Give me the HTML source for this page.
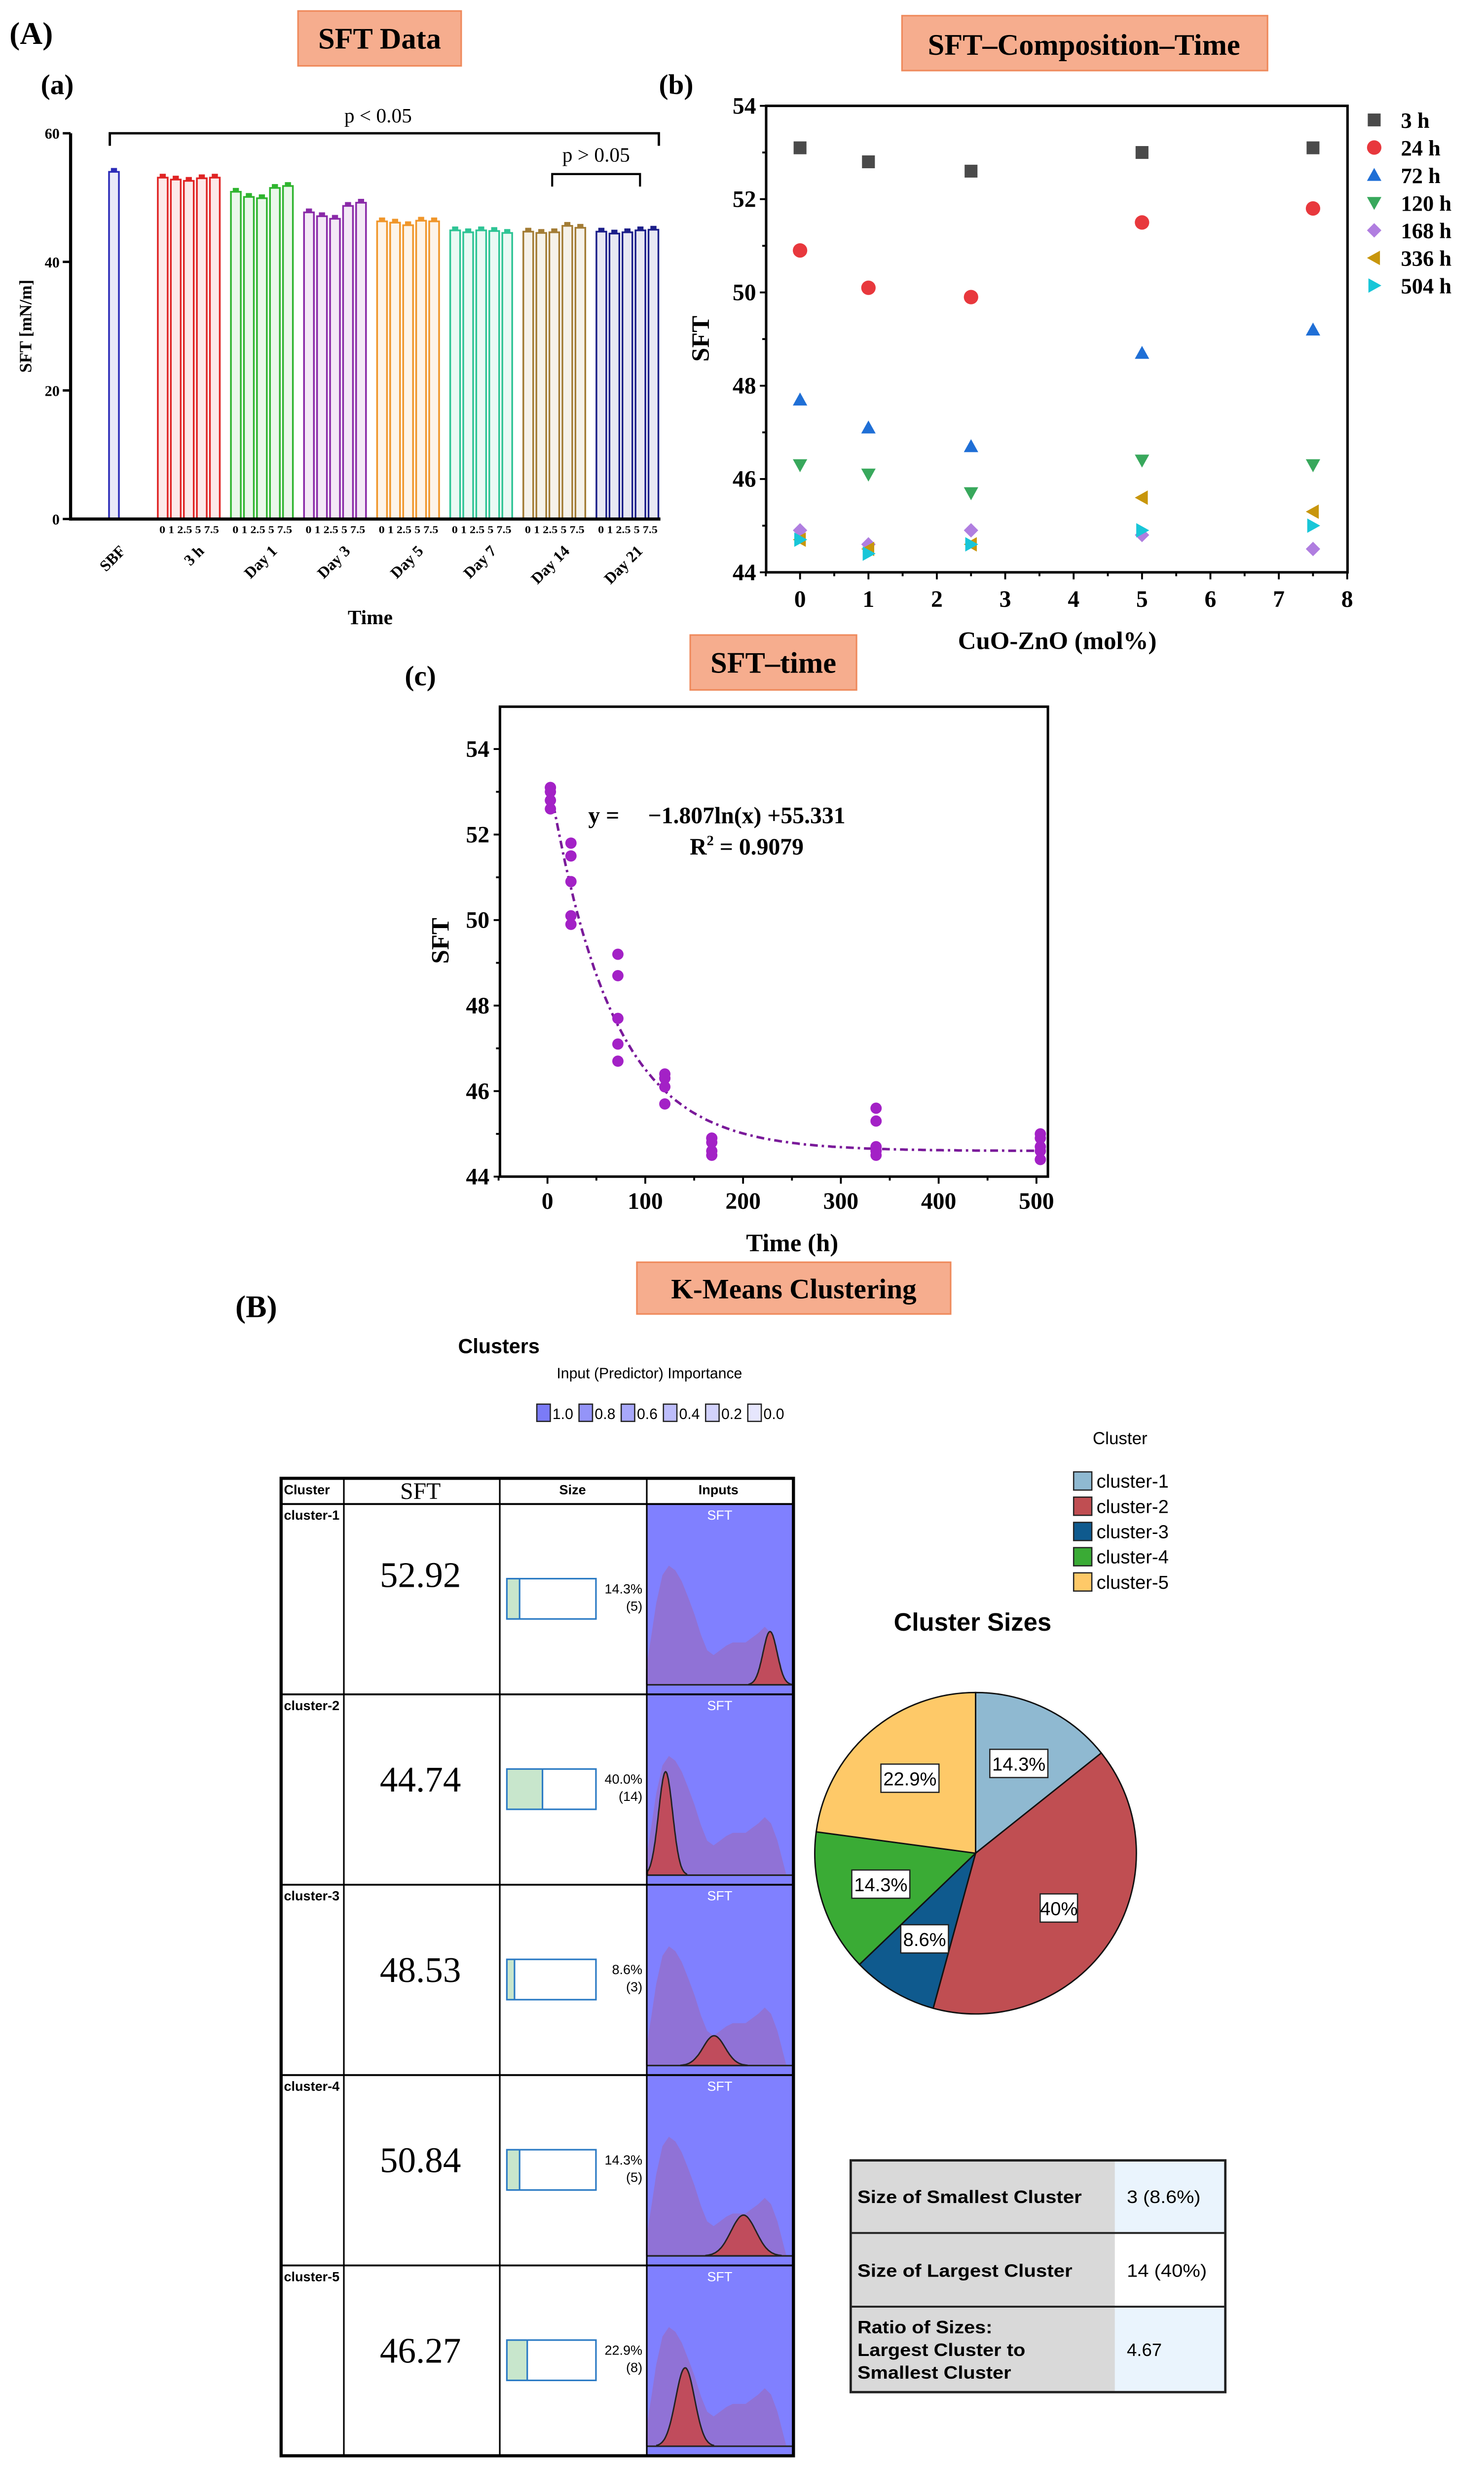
<!DOCTYPE html>
<html><head><meta charset="utf-8"><style>
html,body{margin:0;padding:0;background:#fff;overflow:hidden;}
svg{display:block;}
text{font-family:"Liberation Serif",serif;}
.sans{font-family:"Liberation Sans",sans-serif;}
</style></head><body>
<svg id="fig" xmlns="http://www.w3.org/2000/svg" width="3008" height="5072" viewBox="0 0 946 1596" preserveAspectRatio="none">
<rect x="0" y="0" width="946" height="1596" fill="#fff"/>
<!-- headers -->
<text x="6" y="28" font-size="20" font-weight="bold">(A)</text>
<rect x="190" y="7" width="104" height="35" fill="#f6ad8e" stroke="#ef8a5c"/>
<text x="242" y="31" font-size="19" font-weight="bold" text-anchor="middle">SFT Data</text>
<text x="26" y="60" font-size="18" font-weight="bold">(a)</text>
<rect x="575" y="10" width="233" height="35" fill="#f6ad8e" stroke="#ef8a5c"/>
<text x="691" y="35" font-size="19" font-weight="bold" text-anchor="middle">SFT–Composition–Time</text>
<text x="420" y="60" font-size="18" font-weight="bold">(b)</text>
<rect x="440" y="405" width="106" height="35" fill="#f6ad8e" stroke="#ef8a5c"/>
<text x="493" y="429" font-size="19" font-weight="bold" text-anchor="middle">SFT–time</text>
<text x="258" y="437" font-size="18" font-weight="bold">(c)</text>
<text x="150" y="840" font-size="20" font-weight="bold">(B)</text>
<rect x="406" y="805" width="200" height="33" fill="#f6ad8e" stroke="#ef8a5c"/>
<text x="506" y="828" font-size="18" font-weight="bold" text-anchor="middle">K-Means Clustering</text>

<!-- panel a static -->
<g id="pa"></g>
<text x="241" y="78" font-size="13" text-anchor="middle">p &lt; 0.05</text>
<path d="M70,93 V85 H420 V93" fill="none" stroke="#000" stroke-width="1.5"/>
<text x="380" y="103" font-size="13" text-anchor="middle">p &gt; 0.05</text>
<path d="M352,119 V111 H408 V119" fill="none" stroke="#000" stroke-width="1.3"/>
<text x="236" y="398" font-size="13" font-weight="bold" text-anchor="middle">Time</text>
<text transform="translate(20,208) rotate(-90)" font-size="11" font-weight="bold" text-anchor="middle">SFT [mN/m]</text>

<!-- panel b static -->
<g id="pb"></g>
<text x="674" y="414" font-size="16" font-weight="bold" text-anchor="middle">CuO-ZnO (mol%)</text>
<text transform="translate(452,216) rotate(-90)" font-size="16" font-weight="bold" text-anchor="middle">SFT</text>

<!-- panel c static -->
<g id="pc"></g>
<text x="375" y="525" font-size="15" font-weight="bold">y =</text>
<text x="476" y="525" font-size="15" font-weight="bold" text-anchor="middle">−1.807ln(x) +55.331</text>
<text x="476" y="545" font-size="15" font-weight="bold" text-anchor="middle">R<tspan font-size="9" dy="-6">2</tspan><tspan dy="6"> = 0.9079</tspan></text>
<text x="505" y="798" font-size="16" font-weight="bold" text-anchor="middle">Time (h)</text>
<text transform="translate(286,600) rotate(-90)" font-size="16" font-weight="bold" text-anchor="middle">SFT</text>

<!-- clusters header -->
<text class="sans" x="318" y="863" font-size="13" font-weight="bold" text-anchor="middle">Clusters</text>
<text class="sans" x="414" y="879" font-size="9.5" text-anchor="middle">Input (Predictor) Importance</text>
<g id="impLegend"></g>
<g id="ctable"></g>
<g id="pie"></g>
<text class="sans" x="620" y="1040" font-size="16" font-weight="bold" text-anchor="middle">Cluster Sizes</text>
<text class="sans" x="714" y="921" font-size="11" text-anchor="middle">Cluster</text>

<!-- summary table -->
<g>
<rect x="542.3" y="1377.8" width="168.4" height="147.8" fill="#d9d9d9"/>
<rect x="710.7" y="1377.8" width="70.4" height="46.3" fill="#eaf4fd"/>
<rect x="710.7" y="1424.1" width="70.4" height="47" fill="#ffffff"/>
<rect x="710.7" y="1471.1" width="70.4" height="54.5" fill="#eaf4fd"/>
<rect x="542.3" y="1377.8" width="238.8" height="147.8" fill="none" stroke="#222" stroke-width="1.5"/>
<line x1="542.3" y1="1424.1" x2="781.1" y2="1424.1" stroke="#222" stroke-width="1.2"/>
<line x1="542.3" y1="1471.1" x2="781.1" y2="1471.1" stroke="#222" stroke-width="1.2"/>
<text class="sans" x="546.6" y="1405" font-size="11.5" font-weight="bold" textLength="143" lengthAdjust="spacingAndGlyphs">Size of Smallest Cluster</text>
<text class="sans" x="718.3" y="1405" font-size="11.5" textLength="47" lengthAdjust="spacingAndGlyphs">3 (8.6%)</text>
<text class="sans" x="546.6" y="1452" font-size="11.5" font-weight="bold" textLength="137" lengthAdjust="spacingAndGlyphs">Size of Largest Cluster</text>
<text class="sans" x="718.3" y="1452" font-size="11.5" textLength="51" lengthAdjust="spacingAndGlyphs">14 (40%)</text>
<text class="sans" x="546.6" y="1488" font-size="11.5" font-weight="bold" textLength="86" lengthAdjust="spacingAndGlyphs">Ratio of Sizes:</text>
<text class="sans" x="546.6" y="1502.5" font-size="11.5" font-weight="bold" textLength="107" lengthAdjust="spacingAndGlyphs">Largest Cluster to</text>
<text class="sans" x="546.6" y="1517" font-size="11.5" font-weight="bold" textLength="98" lengthAdjust="spacingAndGlyphs">Smallest Cluster</text>
<text class="sans" x="718.3" y="1502.5" font-size="11.5">4.67</text>
</g>
</svg>
<script>
// ---------- data ----------
const groupLabels = ['3 h','Day 1','Day 3','Day 5','Day 7','Day 14','Day 21'];
const compositions = [0,1,2.5,5,7.5];
const sbfValue = 54.0;
const sft3h   = [53.1,52.8,52.6,53.0,53.1];
const sft24h  = [50.9,50.1,49.9,51.5,51.8];
const sft72h  = [47.7,47.1,46.7,48.7,49.2];
const sft120h = [46.3,46.1,45.7,46.4,46.3];
const sft168h = [44.9,44.6,44.9,44.8,44.5];
const sft336h = [44.7,44.5,44.6,45.6,45.3];
const sft504h = [44.7,44.4,44.6,44.9,45.0];
const timeHours = [3,24,72,120,168,336,504];
const seriesLabels = ['3 h','24 h','72 h','120 h','168 h','336 h','504 h'];
const barTicksA = [0,20,40,60];
const yTicksB = [44,46,48,50,52,54];
const xTicksB = [0,1,2,3,4,5,6,7,8];
const yTicksC = [44,46,48,50,52,54];
const xTicksC = [0,100,200,300,400,500];
const fitAsym = 44.6, fitAmp = 8.9, fitTau = 65;
const clusterNames = ['cluster-1','cluster-2','cluster-3','cluster-4','cluster-5'];
const clusterSFT = [52.92,44.74,48.53,50.84,46.27];
const clusterCounts = [5,14,3,5,8];
const clusterPct = [14.3,40.0,8.6,14.3,22.9];
const pieLabels = ['14.3%','40%','8.6%','14.3%','22.9%'];
const clusterSD = [0.55,0.55,0.86,0.98,0.74];
const peakHeight = [34,66,19,26,50];
const bgSFT = [43.2,43.6,44.0,44.5,45.0,45.5,46.0,46.5,47.0,47.5,48.0,48.5,49.0,49.5,50.0,50.5,51.0,51.5,52.0,52.5,53.0,53.5,54.2];
const bgHeight = [10,30,52,70,76,73,66,56,45,32,22,19,22,25,27,27,27,30,33,37,33,22,0];
const importanceLevels = ['1.0','0.8','0.6','0.4','0.2','0.0'];

const allSeries = [sft3h,sft24h,sft72h,sft120h,sft168h,sft336h,sft504h];
const NS='http://www.w3.org/2000/svg';
function mk(tag, attrs, parent){const e=document.createElementNS(NS,tag);for(const k in attrs)e.setAttribute(k,attrs[k]);parent.appendChild(e);return e;}

// ---------- panel a ----------
const pa=document.getElementById('pa');
const ayA=v=>331-v*(246/60);
const groupX=g=>100.6+g*46.6;
const barColors=['#e02424','#2fb52f','#8a2aa8','#f0962a','#2ec495','#a37c35','#1c1f8a'];
for(const t of barTicksA){
  const l=mk('line',{x1:40,x2:45,y1:ayA(t),y2:ayA(t),stroke:'#000','stroke-width':1.5},pa);
  
  
  const tx=mk('text',{x:38,y:ayA(t)+3.5,'font-size':9.5,'font-weight':'bold','text-anchor':'end'},pa);
  tx.textContent=t;
  
  
}
function drawBar(x,v,col){
  const r=mk('rect',{x:x,y:ayA(v),width:6.3,height:ayA(0)-ayA(v),fill:col,'fill-opacity':0.1,stroke:col,'stroke-width':1.1},pa);
  
  
  const c=mk('rect',{x:x+1.2,y:ayA(v+0.6),width:3.9,height:2.4,fill:col},pa);
  
  
}
drawBar(69.5,sbfValue,'#2b2bb8');
allSeries.forEach((s,g)=>{
  s.forEach((v,i)=>drawBar(groupX(g)+i*8.3,v,barColors[g]));
  const t=mk('text',{x:groupX(g)+1,y:340,'font-size':6.5,'font-weight':'bold',textLength:38,lengthAdjust:'spacingAndGlyphs'},pa);
  t.textContent=compositions.join(' ');
  
  
});
const xa=mk('line',{x1:45,x2:421,y1:ayA(0),y2:ayA(0),stroke:'#000','stroke-width':2},pa);


const ya=mk('line',{x1:45,x2:45,y1:ayA(60),y2:ayA(0)+1,stroke:'#000','stroke-width':2},pa);


const rotLabels=['SBF'].concat(groupLabels);
const rotX=[72.5].concat(groupLabels.map((_,g)=>groupX(g)+22));
rotLabels.forEach((lab,i)=>{
  const t=mk('text',{transform:`translate(${rotX[i]+8},${352}) rotate(-45)`,'font-size':10,'font-weight':'bold','text-anchor':'end'},pa);
  t.textContent=lab;
  
  
});

// ---------- panel b ----------
const pb=document.getElementById('pb');
const bx=v=>510+v*43.6, by=v=>365-(v-44)*29.75;
const frameB=mk('rect',{x:488.4,y:67.5,width:370.6,height:297.5,fill:'none',stroke:'#000','stroke-width':1.6},pb);


for(let v=44;v<=54;v+=1){
  const major=yTicksB.includes(v);
  const l=mk('line',{x1:488.4-(major?4:2.5),x2:488.4,y1:by(v),y2:by(v),stroke:'#000','stroke-width':1.2},pb);
  
  
}
for(const t of yTicksB){
  const tx=mk('text',{x:482,y:by(t)+5,'font-size':15,'font-weight':'bold','text-anchor':'end'},pb);
  tx.textContent=t;
  
  
}
for(let v=-0.5;v<=8;v+=0.5){
  const major=Number.isInteger(v);
  const l=mk('line',{x1:bx(v),x2:bx(v),y1:365,y2:365+(major?4.5:2.5),stroke:'#000','stroke-width':1.2},pb);
  
  
}
for(const t of xTicksB){
  const tx=mk('text',{x:bx(t),y:387,'font-size':15,'font-weight':'bold','text-anchor':'middle'},pb);
  tx.textContent=t;
  
  
}
const mColors=['#4a4a4a','#e8383d','#1f6fd6','#38a85c','#b07ee0','#c8960c','#18c6d8'];
function marker(k,x,y,parent){
  const s=4.6,c=mColors[k];let e;
  if(k===0)e=mk('rect',{x:x-s+0.5,y:y-s+0.5,width:2*s-1,height:2*s-1,fill:c},parent);
  else if(k===1)e=mk('circle',{cx:x,cy:y,r:s,fill:c},parent);
  else if(k===2)e=mk('polygon',{points:`${x},${y-s} ${x+s},${y+s*0.8} ${x-s},${y+s*0.8}`,fill:c},parent);
  else if(k===3)e=mk('polygon',{points:`${x},${y+s} ${x+s},${y-s*0.8} ${x-s},${y-s*0.8}`,fill:c},parent);
  else if(k===4)e=mk('polygon',{points:`${x},${y-s} ${x+s},${y} ${x},${y+s} ${x-s},${y}`,fill:c},parent);
  else if(k===5)e=mk('polygon',{points:`${x-s},${y} ${x+s*0.8},${y-s} ${x+s*0.8},${y+s}`,fill:c},parent);
  else e=mk('polygon',{points:`${x+s},${y} ${x-s*0.8},${y-s} ${x-s*0.8},${y+s}`,fill:c},parent);
  return e;
}
allSeries.forEach((s,k)=>{
  s.forEach((v,i)=>{
    const m=marker(k,bx(compositions[i]),by(v),pb);
    
    
  });
  const ly=76.5+k*17.6;
  const lm=marker(k,876,ly,pb);
  
  
  const lt=mk('text',{x:893,y:ly+5,'font-size':14,'font-weight':'bold'},pb);
  lt.textContent=seriesLabels[k];
  
  
});

// ---------- panel c ----------
const pc=document.getElementById('pc');
const cx=v=>349+v*0.6234, cy=v=>750.4-(v-44)*27.27;
const frameC=mk('rect',{x:318.7,y:450.7,width:349.3,height:299.7,fill:'none',stroke:'#000','stroke-width':1.6},pc);


for(let v=44;v<=54;v+=1){
  const major=yTicksC.includes(v);
  const l=mk('line',{x1:318.7-(major?4:2.5),x2:318.7,y1:cy(v),y2:cy(v),stroke:'#000','stroke-width':1.2},pc);
  
  
}
for(const t of yTicksC){
  const tx=mk('text',{x:312,y:cy(t)+5,'font-size':15,'font-weight':'bold','text-anchor':'end'},pc);
  tx.textContent=t;
  
  
}
for(let v=-50;v<=500;v+=50){
  const major=xTicksC.includes(v);
  const l=mk('line',{x1:cx(v),x2:cx(v),y1:750.4,y2:750.4+(major?4.5:2.5),stroke:'#000','stroke-width':1.2},pc);
  
  
}
for(const t of xTicksC){
  const tx=mk('text',{x:cx(t),y:771,'font-size':15,'font-weight':'bold','text-anchor':'middle'},pc);
  tx.textContent=t;
  
  
}
let fitPts=[];
for(let t=3;t<=504;t+=3){fitPts.push(cx(t).toFixed(1)+','+cy(fitAsym+fitAmp*Math.exp(-t/fitTau)).toFixed(1));}
const fit=mk('polyline',{points:fitPts.join(' '),fill:'none',stroke:'#7a1a9a','stroke-width':1.6,'stroke-dasharray':'5 2.5 1.5 2.5'},pc);


allSeries.forEach((s,k)=>{
  s.forEach(v=>{
    const p=mk('circle',{cx:cx(timeHours[k]),cy:cy(v),r:3.6,fill:'#a321c6'},pc);
    
    
  });
});

// ---------- importance legend ----------
const il=document.getElementById('impLegend');
const impFill=['#7b7bf7','#9494f8','#a8a8fa','#bdbdfb','#d2d2fc','#e6e6fd'];
importanceLevels.forEach((lv,i)=>{
  const x=342.2+i*26.9;
  const r=mk('rect',{x:x,y:895.5,width:8.6,height:11,fill:impFill[i],stroke:'#222','stroke-width':0.8},il);
  
  
  const t=mk('text',{x:x+10,y:905,'font-size':9.5,class:'sans'},il);
  t.textContent=lv;
  
  
});

// ---------- cluster table ----------
const ct=document.getElementById('ctable');
const T0=959.2, RH=121.4, L=179.2, R=505.8, C1=219.2, C2=318.6, C3=412.3, IR=505.3;
const ix=v=>424.3+(v-44.74)*8.14;
const hdrs=[['Cluster',181,'start',8.5,'sans','bold'],['SFT',268,'middle',15,'','normal'],['Size',365,'middle',8.5,'sans','bold'],['Inputs',458,'middle',8.5,'sans','bold']];
hdrs.forEach(h=>{
  const t=mk('text',{x:h[1],y:h[0]==='SFT'?956:953,'text-anchor':h[2],'font-size':h[3],'font-weight':h[5]},ct);
  if(h[4])t.setAttribute('class',h[4]);
  t.textContent=h[0];
  
  
});
clusterNames.forEach((nm,i)=>{
  const top=T0+i*RH, base=top+115.3;
  const bg=mk('rect',{x:C3,y:top,width:IR-C3,height:RH,fill:'#8080ff'},ct);
  
  
  let pts=[`${ix(bgSFT[0])},${base}`];
  bgSFT.forEach((v,j)=>pts.push(`${ix(v).toFixed(1)},${(base-bgHeight[j]).toFixed(1)}`));
  const area=mk('polygon',{points:pts.join(' '),fill:'#9072d6'},ct);
  
  
  let rp=[];
  const sdpx=clusterSD[i]*8.14;
  for(let d=-3;d<=3.001;d+=0.1){const x=ix(clusterSFT[i])+d*sdpx*1.0;if(x<C3||x>IR)continue;rp.push(`${x.toFixed(1)},${(base-peakHeight[i]*Math.exp(-d*d/2)).toFixed(1)}`);}
  const first=rp[0].split(','),last=rp[rp.length-1].split(',');
  const red=mk('path',{d:`M${first[0]},${base} L${rp.join(' L')} L${last[0]},${base} Z`,fill:'#c04c5c',stroke:'#222','stroke-width':0.9},ct);
  
  
  const bl=mk('line',{x1:C3,x2:IR,y1:base,y2:base,stroke:'#222','stroke-width':1},ct);
  
  
  const st=mk('text',{x:(C3+IR)/2,y:top+10,'text-anchor':'middle','font-size':8.5,fill:'#fff',class:'sans'},ct);
  st.textContent='SFT';
  
  
  const cl=mk('text',{x:181,y:top+10,'font-size':8.5,'font-weight':'bold',class:'sans'},ct);
  cl.textContent=nm;
  
  
  const vt=mk('text',{x:268,y:top+(i===0?53:62),'text-anchor':'middle','font-size':23},ct);
  vt.textContent=clusterSFT[i].toFixed(2);
  
  
  const gf=mk('rect',{x:323.1,y:top+47.6,width:56.8*clusterPct[i]/100,height:25.7,fill:'#c8e6cc'},ct);
  
  
  const gl=mk('line',{x1:323.1+56.8*clusterPct[i]/100,x2:323.1+56.8*clusterPct[i]/100,y1:top+47.6,y2:top+73.3,stroke:'#2a7ac4','stroke-width':1},ct);
  
  
  const go=mk('rect',{x:323.1,y:top+47.6,width:56.8,height:25.7,fill:'none',stroke:'#2a7ac4','stroke-width':1},ct);
  
  
  const p1=mk('text',{x:409.5,y:top+57,'text-anchor':'end','font-size':8.5,class:'sans'},ct);
  p1.textContent=clusterPct[i].toFixed(1)+'%';
  
  
  const p2=mk('text',{x:409.5,y:top+68,'text-anchor':'end','font-size':8.5,class:'sans'},ct);
  p2.textContent='('+clusterCounts[i]+')';
  
  
  if(i>0){
    const rl=mk('line',{x1:L,x2:R,y1:top,y2:top,stroke:'#000','stroke-width':1.2},ct);
    
    
  }
});
const bottom=T0+5*RH;
const hl=mk('line',{x1:L,x2:R,y1:T0,y2:T0,stroke:'#000','stroke-width':1.2},ct);


[C1,C2,C3].forEach(x=>{
  const v=mk('line',{x1:x,x2:x,y1:942.8,y2:bottom,stroke:'#000','stroke-width':1},ct);
  
  
});
const ob=mk('rect',{x:L,y:942.8,width:R-L,height:bottom-942.8,fill:'none',stroke:'#000','stroke-width':2},ct);



// ---------- pie ----------
const pie=document.getElementById('pie');
const PX=621.9, PY=1181.9, PR=102.5;
const pieColors=['#8fb9d1','#c04e52','#0f5a8e','#3aab35','#fec968'];
const total=clusterPct.reduce((a,b)=>a+b,0);
let acc=0;
clusterPct.forEach((p,i)=>{
  const a0=acc/total*2*Math.PI; acc+=p; const a1=acc/total*2*Math.PI;
  const x0=PX+PR*Math.sin(a0), y0=PY-PR*Math.cos(a0), x1=PX+PR*Math.sin(a1), y1=PY-PR*Math.cos(a1);
  const large=(a1-a0)>Math.PI?1:0;
  const s=mk('path',{d:`M${PX},${PY} L${x0},${y0} A${PR},${PR} 0 ${large} 1 ${x1},${y1} Z`,fill:pieColors[i],stroke:'#111','stroke-width':0.9},pie);
  
  
  const am=(a0+a1)/2, lx=PX+PR*0.62*Math.sin(am), ly=PY-PR*0.62*Math.cos(am);
  const w=pieLabels[i].length*6.6+4;
  const b=mk('rect',{x:lx-w/2,y:ly-9,width:w,height:18,fill:'#fff',stroke:'#222','stroke-width':0.8},pie);
  
  
  const t=mk('text',{x:lx,y:ly+4.5,'text-anchor':'middle','font-size':12,class:'sans'},pie);
  t.textContent=pieLabels[i];
  
  
  const ly2=944.5+i*16.1;
  const sw=mk('rect',{x:684.4,y:ly2-5.8,width:11.6,height:11.6,fill:pieColors[i],stroke:'#222','stroke-width':0.8},pie);
  
  
  const lt=mk('text',{x:699,y:ly2+4.3,'font-size':12,class:'sans'},pie);
  lt.textContent=clusterNames[i];
  
  
});
</script>
</body></html>
